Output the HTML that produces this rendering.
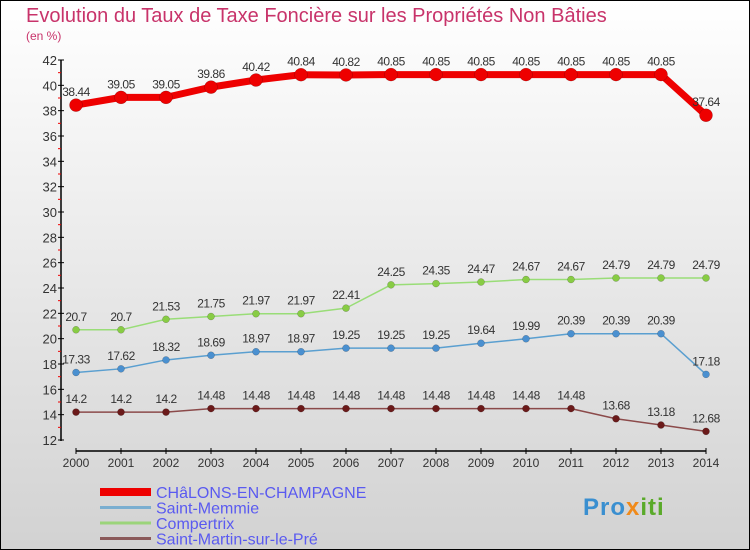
<!DOCTYPE html>
<html><head><meta charset="utf-8"><style>
body{margin:0}
#c{width:750px;height:550px;position:relative;box-sizing:border-box;border:1px solid #000;background:linear-gradient(#ffffff,#d2d2d2);font-family:"Liberation Sans",sans-serif;overflow:hidden}
</style></head><body>
<div id="c">
<svg id="s" width="750" height="550" style="position:absolute;left:-1px;top:-1px"></svg>
</div>
<script>
const years=["2000","2001","2002","2003","2004","2005","2006","2007","2008","2009","2010","2011","2012","2013","2014"];
const chalons=[38.44,39.05,39.05,39.86,40.42,40.84,40.82,40.85,40.85,40.85,40.85,40.85,40.85,40.85,37.64];
const memmie=[17.33,17.62,18.32,18.69,18.97,18.97,19.25,19.25,19.25,19.64,19.99,20.39,20.39,20.39,17.18];
const compertrix=[20.7,20.7,21.53,21.75,21.97,21.97,22.41,24.25,24.35,24.47,24.67,24.67,24.79,24.79,24.79];
const martin=[14.2,14.2,14.2,14.48,14.48,14.48,14.48,14.48,14.48,14.48,14.48,14.48,13.68,13.18,12.68];
const yTicks=[12,14,16,18,20,22,24,26,28,30,32,34,36,38,40,42];
const names=["CHâLONS-EN-CHAMPAGNE","Saint-Memmie","Compertrix","Saint-Martin-sur-le-Pré"];
const svg=document.getElementById('s');const NS="http://www.w3.org/2000/svg";
function X(i){return 76+i*45}
function Y(v){return 440-(v-12)*(380/30)}
function el(t,a,txt,p){const e=document.createElementNS(NS,t);for(const k in a)e.setAttribute(k,a[k]);if(txt!=null)e.textContent=txt;(p||svg).appendChild(e);return e}
function lbl(v){return String(v)}
let t=el('text',{x:26,y:22,fill:'#c8336a','font-size':20},'Evolution du Taux de Taxe Foncière sur les Propriétés Non Bâties');

t=el('text',{x:26,y:40,fill:'#c8336a','font-size':12},'(en %)');

let ya=el('line',{x1:61,y1:60,x2:61,y2:441,stroke:'#000','stroke-width':1.5});

yTicks.forEach(v=>{el('line',{x1:58,x2:64,y1:Y(v),y2:Y(v),stroke:'#000'});
 if(v<42)el('line',{x1:58,x2:61,y1:Y(v+1),y2:Y(v+1),stroke:'#e00'});
 const tt=el('text',{x:57,y:Y(v)+5,'text-anchor':'end','font-size':13,fill:'#333'},v);
 });
let xa=el('line',{x1:76,y1:451,x2:706,y2:451,stroke:'#000','stroke-width':1.5});

years.forEach((y,i)=>{el('line',{x1:X(i),x2:X(i),y1:448,y2:454,stroke:'#000'});
 const tt=el('text',{x:X(i),y:467,'text-anchor':'middle','font-size':12,fill:'#333'},y);
 });
function series(d,col,w,r,dot,name){
 const g=el('g',{});
 el('polyline',{points:d.map((v,i)=>X(i)+','+Y(v)).join(' '),fill:'none',stroke:col,'stroke-width':w,'stroke-linejoin':'round'},null,g);
 d.forEach((v,i)=>{const c=el('circle',{cx:X(i),cy:Y(v),r:r,fill:dot,stroke:'rgba(0,0,0,0.3)','stroke-width':0.5},null,g);
 
 const tt=el('text',{x:X(i),y:Y(v)-9,'text-anchor':'middle','font-size':12,fill:'#333','letter-spacing':'-0.5'},lbl(v),g);
 });
}
series(martin,'#8b4a4a',1.5,3.5,'#6b1a1a','series-saint-martin');
series(memmie,'#5a9fd0',1.5,3.5,'#4a90d0','series-saint-memmie');
series(compertrix,'#99dd77',1.5,3.5,'#88cc44','series-compertrix');
series(chalons,'#ee0000',7,6.5,'#ee0000','series-chalons');
const lc=['#ee0000','#7aaed0','#9bd47a','#8b5a5a'],lw=[8,3,3,3];
names.forEach((n,i)=>{const y=492+i*15.5;const g=el('g',{});
 el('line',{x1:100,x2:151,y1:y,y2:y,stroke:lc[i],'stroke-width':lw[i]},null,g);
 el('text',{x:156,y:y+6,'font-size':16,fill:'#5a5af0'},n,g);});
const lg=el('text',{x:583,y:515,'font-size':24,'font-weight':'bold',fill:'#3a8fd0','letter-spacing':'1'},'');

[['Pro','#3a8fd0'],['x','#f08a1a'],['iti','#5aaa2a']].forEach(p=>{el('tspan',{fill:p[1]},p[0],lg)});
</script>
</body></html>
